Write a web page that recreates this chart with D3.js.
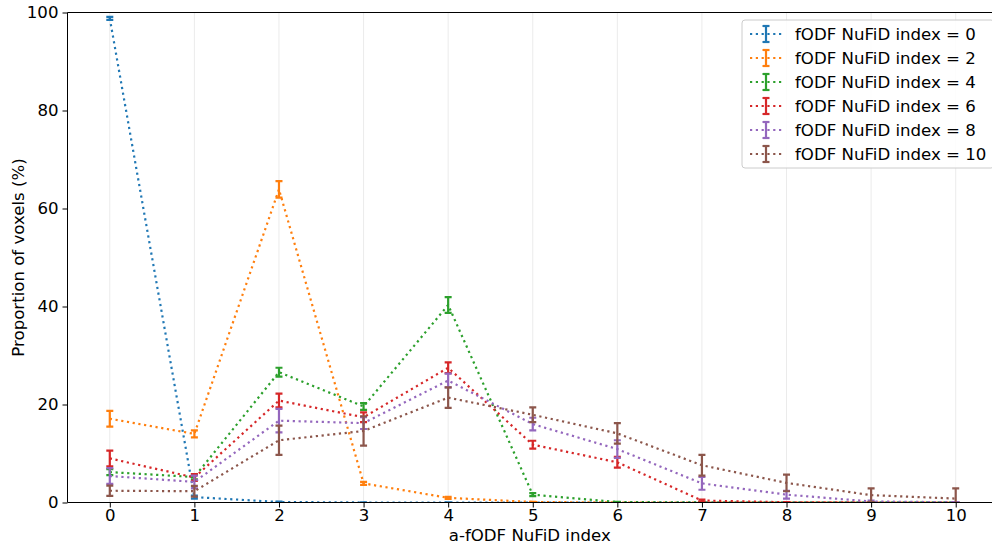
<!DOCTYPE html>
<html>
<head>
<meta charset="utf-8">
<script src="https://cdn.jsdelivr.net/npm/d3@7"></script>
<style>
  body { margin: 0; background: #fff; }
  text { font-family: "DejaVu Sans", sans-serif; }
</style>
</head>
<body>
<svg id="chart" width="992" height="548"></svg>
<script>
const xTicks = [0, 1, 2, 3, 4, 5, 6, 7, 8, 9, 10];
const yTicks = [0, 20, 40, 60, 80, 100];
const seriesNames = ['fODF NuFiD index = 0', 'fODF NuFiD index = 2', 'fODF NuFiD index = 4',
                     'fODF NuFiD index = 6', 'fODF NuFiD index = 8', 'fODF NuFiD index = 10'];
const colors = ['#1f77b4', '#ff7f0e', '#2ca02c', '#d62728', '#9467bd', '#8c564b'];

// mean proportion per a-fODF index (0..10)
const mean0  = [98.8, 1.1, 0.1, 0, 0, 0, 0, 0, 0, 0, 0];
const mean2  = [17.1, 14.0, 63.9, 3.9, 0.95, 0.1, 0, 0, 0, 0, 0];
const mean4  = [6.2, 5.2, 26.6, 19.6, 40.3, 1.6, 0.1, 0, 0, 0, 0];
const mean6  = [9.0, 5.1, 20.8, 17.4, 27.5, 11.8, 8.2, 0.4, 0.05, 0, 0];
const mean8  = [5.4, 4.2, 16.7, 16.2, 24.9, 16.0, 10.9, 3.9, 1.6, 0.2, 0.05];
const mean10 = [2.4, 2.3, 12.7, 14.6, 21.4, 17.9, 14.1, 7.6, 4.0, 1.5, 0.8];

// error (± half-length)
const err0  = [0.3, 0.3, 0.1, 0, 0, 0, 0, 0, 0, 0, 0];
const err2  = [1.6, 0.7, 1.7, 0.3, 0.2, 0.05, 0, 0, 0, 0, 0];
const err4  = [0.6, 0.5, 0.9, 0.7, 1.6, 0.3, 0.05, 0, 0, 0, 0];
const err6  = [1.6, 0.7, 1.4, 1.0, 1.1, 0.8, 1.1, 0.2, 0.05, 0, 0];
const err8  = [1.6, 1.3, 2.4, 1.2, 1.4, 1.3, 1.8, 1.3, 0.8, 0.2, 0.05];
const err10 = [1.05, 1.1, 3.0, 3.0, 2.1, 1.5, 2.1, 2.1, 1.7, 1.4, 2.1];

const means = [mean0, mean2, mean4, mean6, mean8, mean10];
const errs = [err0, err2, err4, err6, err8, err10];

const svg = d3.select("#chart");
const padL = 67.5, padT = 12.5, padB = 502.5, padR = 998;
const fs = 16.6;
const x = d3.scaleLinear().domain([-0.5, 10.5]).range([padL, padR]);
const y = d3.scaleLinear().domain([0, 100]).range([padB, padT]);

svg.append("defs").append("clipPath").attr("id", "clip")
  .append("rect").attr("x", padL).attr("y", padT).attr("width", padR - padL).attr("height", padB - padT);

// vertical grid
svg.append("g").selectAll("line").data(xTicks).join("line")
  .attr("x1", d => x(d)).attr("x2", d => x(d))
  .attr("y1", padT).attr("y2", padB)
  .attr("stroke", "#ebebeb").attr("stroke-width", 1);

const plot = svg.append("g").attr("clip-path", "url(#clip)");
const line = d3.line().x((d, i) => x(i)).y(d => y(d));
const cap = 3.5;

means.forEach((m, s) => {
  const g = plot.append("g");
  g.append("path").datum(m)
    .attr("d", line)
    .attr("fill", "none")
    .attr("stroke", colors[s])
    .attr("stroke-width", 2.2)
    .attr("stroke-dasharray", "2.2,3.6");
  const pts = m.map((v, i) => ({i, v, e: errs[s][i]}));
  g.selectAll("line.eb").data(pts).join("line").attr("class", "eb")
    .attr("x1", d => x(d.i)).attr("x2", d => x(d.i))
    .attr("y1", d => y(d.v - d.e)).attr("y2", d => y(d.v + d.e))
    .attr("stroke", colors[s]).attr("stroke-width", 2.2);
  ["lo", "hi"].forEach(k => {
    g.selectAll("line.cap" + k).data(pts).join("line").attr("class", "cap" + k)
      .attr("x1", d => x(d.i) - cap).attr("x2", d => x(d.i) + cap)
      .attr("y1", d => y(k === "lo" ? d.v - d.e : d.v + d.e))
      .attr("y2", d => y(k === "lo" ? d.v - d.e : d.v + d.e))
      .attr("stroke", colors[s]).attr("stroke-width", 2.2);
  });
});

// axes
const xAxis = svg.append("g").attr("transform", `translate(0,${padB})`)
  .call(d3.axisBottom(x).tickValues(xTicks).tickSize(5).tickPadding(2).tickFormat(d3.format("d")));
const yAxis = svg.append("g").attr("transform", `translate(${padL},0)`)
  .call(d3.axisLeft(y).tickValues(yTicks).tickSize(5).tickPadding(4));
[xAxis, yAxis].forEach(a => {
  a.select(".domain").remove();
  a.selectAll("text").attr("font-size", fs).attr("fill", "#000").attr("font-family", "DejaVu Sans");
  a.selectAll("line").attr("stroke", "#000").attr("stroke-width", 1);
});

// spines
svg.append("line").attr("x1", padL).attr("x2", padR).attr("y1", padT).attr("y2", padT).attr("stroke", "#000");
svg.append("line").attr("x1", padL).attr("x2", padR).attr("y1", padB).attr("y2", padB).attr("stroke", "#000");
svg.append("line").attr("x1", padL).attr("x2", padL).attr("y1", padT).attr("y2", padB).attr("stroke", "#000");

svg.append("text").attr("x", (padL + padR) / 2 - 3).attr("y", 541)
  .attr("text-anchor", "middle").attr("font-size", fs).text("a-fODF NuFiD index");
svg.append("text").attr("transform", `translate(24,${(padT + padB) / 2}) rotate(-90)`)
  .attr("text-anchor", "middle").attr("font-size", fs).text("Proportion of voxels (%)");

// legend
const lg = svg.append("g").attr("transform", "translate(742,20)");
lg.append("rect").attr("x", 0).attr("y", 0).attr("width", 252).attr("height", 148).attr("rx", 3)
  .attr("fill", "#fff").attr("fill-opacity", 0.85).attr("stroke", "#ccc");
seriesNames.forEach((name, s) => {
  const cy = 14 + s * 24;
  const row = lg.append("g").attr("transform", `translate(0,${cy})`);
  row.append("line").attr("x1", 8).attr("x2", 42).attr("y1", 0).attr("y2", 0)
    .attr("stroke", colors[s]).attr("stroke-width", 2.2).attr("stroke-dasharray", "2.2,3.6");
  row.append("line").attr("x1", 24).attr("x2", 24).attr("y1", -8).attr("y2", 8)
    .attr("stroke", colors[s]).attr("stroke-width", 2.2);
  [-8, 8].forEach(dy => row.append("line").attr("x1", 24 - cap).attr("x2", 24 + cap)
    .attr("y1", dy).attr("y2", dy).attr("stroke", colors[s]).attr("stroke-width", 2.2));
  row.append("text").attr("x", 53).attr("y", 6).attr("font-size", fs).text(name);
});
</script>
</body>
</html>
